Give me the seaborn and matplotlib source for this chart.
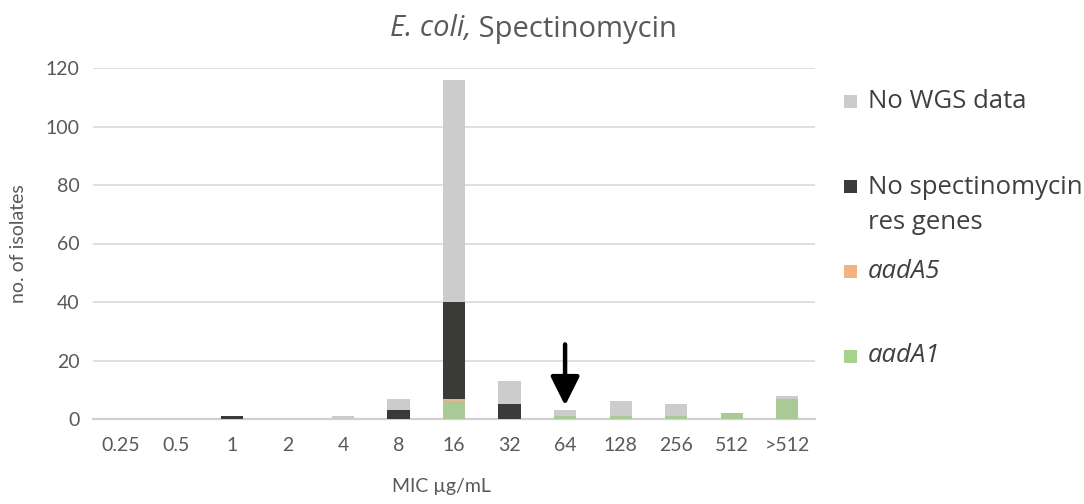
import pandas as pd
import matplotlib
matplotlib.use("Agg")
import matplotlib.pyplot as plt
from matplotlib.patches import Rectangle
import seaborn as sns

mics = ['0.25', '0.5', '1', '2', '4', '8', '16', '32', '64', '128', '256', '512', '>512']
aadA1 = [0, 0, 0, 0, 0, 0, 6, 0, 1, 1, 1, 2, 7]
aadA5 = [0, 0, 0, 0, 0, 0, 1, 0, 0, 0, 0, 0, 0]
no_genes = [0, 0, 1, 0, 0, 3, 33, 5, 0, 0, 0, 0, 0]
no_wgs = [0, 0, 0, 0, 1, 4, 76, 8, 2, 5, 4, 0, 1]

series = ['aadA1', 'aadA5', 'No spectinomycin\nres genes', 'No WGS data']
colors = ['#A9D18E', '#F4B183', '#3A3A38', '#CDCCCC']

df = pd.DataFrame({'mic': mics, 'aadA1': aadA1, 'aadA5': aadA5,
                   'none': no_genes, 'nowgs': no_wgs})
df['c1'] = df['aadA1']
df['c2'] = df['c1'] + df['aadA5']
df['c3'] = df['c2'] + df['none']
df['c4'] = df['c3'] + df['nowgs']

sns.set_style('white')
plt.rcParams['font.family'] = ['Open Sans', 'DejaVu Sans']
tick_font = ['Lato', 'DejaVu Sans']

fig = plt.figure(figsize=(10.84, 5.04), dpi=100)
ax = fig.add_axes([93 / 1084, 1 - 419 / 504, 722 / 1084, 351 / 504])

# stacked bars: draw cumulative totals from the top down
for col, c in zip(['c4', 'c3', 'c2', 'c1'], colors[::-1]):
    sns.barplot(data=df, x='mic', y=col, order=mics, color=c, width=0.4,
                linewidth=0, ax=ax, errorbar=None, zorder=3)

ax.set_ylim(0, 120)
ax.set_yticks(range(0, 121, 20))
ax.yaxis.grid(True, color='#D9D9D9', linewidth=1.2, zorder=0)
ax.set_axisbelow(True)
for s in ['top', 'right', 'left']:
    ax.spines[s].set_visible(False)
ax.spines['bottom'].set_color('#D0D0D0')
ax.spines['bottom'].set_linewidth(1.6)
ax.spines['bottom'].set_zorder(1)
ax.tick_params(axis='x', length=0, labelsize=14, labelcolor='#595959', pad=13)
ax.tick_params(axis='y', length=0, labelsize=14, labelcolor='#595959', pad=9.5)
for lab in ax.get_xticklabels() + ax.get_yticklabels():
    lab.set_family(tick_font)
ax.set_xlabel('MIC µg/mL', fontsize=14, color='#595959', family=tick_font)
ax.xaxis.set_label_coords((441 - 93) / 722, -(478 - 419) / 351)
ax.set_ylabel('no. of isolates', fontsize=14, color='#595959', family=tick_font)
ax.yaxis.set_label_coords(-(93 - 27) / 722, 0.5)

# arrow marking the breakpoint at 64
ax.annotate('', xy=(8, 4.6), xytext=(8, 25.5),
            arrowprops=dict(arrowstyle='-|>,head_length=0.8,head_width=0.4',
                            lw=3.2, color='black', mutation_scale=22,
                            shrinkA=0, shrinkB=0), zorder=5)

# title with italic species name
fig.text(471 / 1084, 1 - 29 / 504, 'E. coli,', ha='right', va='center',
         fontsize=21, style='italic', color='#595959')
fig.text(471 / 1084, 1 - 29 / 504, ' Spectinomycin', ha='left', va='center',
         fontsize=21, color='#595959')

# legend drawn by hand to match the spacing of the original
leg_y = [101, 205, 271, 356]
leg_labels = series[::-1]
leg_colors = colors[::-1]
for yy, lab, c in zip(leg_y, leg_labels, leg_colors):
    sq_y = 186 if '\n' in lab else yy
    fig.patches.append(Rectangle((844 / 1084, 1 - (sq_y + 7) / 504), 13 / 1084, 13 / 504,
                                 transform=fig.transFigure, facecolor=c,
                                 edgecolor='none'))
    fig.text(868 / 1084, 1 - yy / 504, lab, ha='left', va='center', fontsize=18.5,
             color='#404040', linespacing=1.5,
             style='italic' if lab.startswith('aad') else 'normal')

fig.savefig('out.png', dpi=100)
